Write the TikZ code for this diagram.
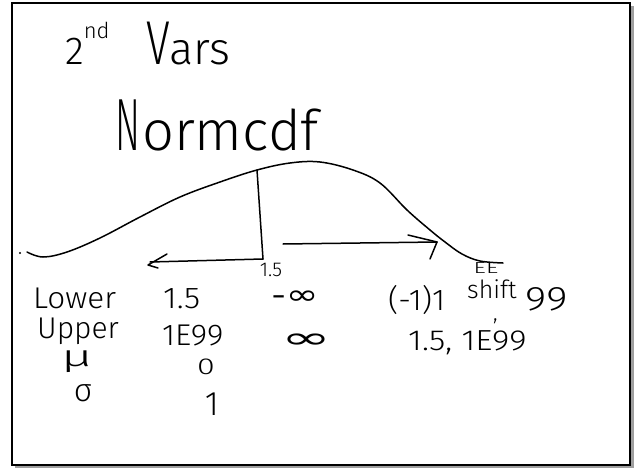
\documentclass[tikz,border=0pt]{standalone}
\usepackage{graphicx}
\usepackage{fontspec}
\setmainfont{Fira Sans Light}
\newfontfamily\symfont{DejaVu Sans}
\newcommand\fs[1]{\fontsize{#1}{#1}\selectfont}
\begin{document}
\begin{tikzpicture}[x=1pt,y=-1pt,
  hw/.style={inner sep=0pt, anchor=base west, text=black},
  hc/.style={inner sep=0pt, anchor=center, text=black},
  pen/.style={line width=1.5pt, line cap=round, line join=round}]
\useasboundingbox (0,0) rectangle (639,468);
% frame with shadow
\fill[gray!75] (15,6) rectangle (634,468);
\draw[line width=1.8pt, fill=white] (12,3) rectangle (630,465);
% title
\node[hw] (title) at (65,65) {\fs{39}2\raisebox{26pt}{\fs{22}nd}\fs{45}\ \hspace{24pt}\scalebox{0.7}[1]{\fs{62}V}ars};
\node[hw] (fn) at (115,150) {\scalebox{0.5}[1]{\fs{74}N}\hspace{2pt}{\fs{56}ormcdf}};
% curve
\fill (20,253) circle (1.2pt);
\coordinate (peak) at (257,170);
\coordinate (foot) at (263,259);
\draw[pen] plot[smooth, tension=0.6] coordinates {(27,252) (43,257) (67,252) (100,238) (140,217) (180,197) (220,182) (257,170) (290,163) (320,162) (353,170) (380,183) (407,210) (430,230) (445,242) (462,254) (480,261) (503,263)};
% vertical line
\draw[pen] (peak) -- (foot);
% left arrow
\coordinate (ltip) at (150,262);
\draw[pen] (foot) -- (ltip);
\draw[pen] (167,254) -- (148,265) -- (158,268);
% right arrow
\coordinate (rs) at (283,244);
\coordinate (rtip) at (437,242);
\draw[pen] (rs) -- (rtip);
\draw[pen] (408,235) -- (rtip) -- (430,259);
% labels
\node[hc] (lab) at (271,270) {\fs{20}1.5};
\node[hw, xscale=1.05] (lower) at (33,308) {\fs{30}Lower};
\node[hw] (upper) at (37,338) {\fs{30}Upper};
\node[hc, xscale=1.8] (mu) at (77,362) {\fs{30}μ};
\node[hc] (sigma) at (83,393) {\fs{32}σ};
\node[hw, xscale=1.1] (a1) at (163,308) {\fs{30}1.5};
\node[hw, xscale=1.05] (a2) at (162,345) {\fs{30}1E99};
\node[hc, xscale=1.4] (a3) at (206,367) {\fs{23}0};
\node[hc] (a4) at (212,404) {\fs{34}1};
\node[hc, xscale=1.4] (b1) at (295,298) {\symfont\fs{28}-∞};
\node[hc, xscale=2] (b2) at (306,341) {\symfont\fs{30}∞};
\node[hw, xscale=1.05] (c1) at (388,310) {\fs{30}(-1)1};
\node[hc, xscale=1.5] (ee) at (486,268) {\fs{16}EE};
\node[hw] (shift) at (467,298) {\fs{25}shift};
\node[hw, xscale=1.2] (nn) at (525,310) {\fs{34}99};
\node[hw] (cm) at (493,320) {\fs{22},};
\node[hw, xscale=1.15] (c2) at (408,350) {\fs{29}1.5, 1E99};
\end{tikzpicture}
\end{document}
